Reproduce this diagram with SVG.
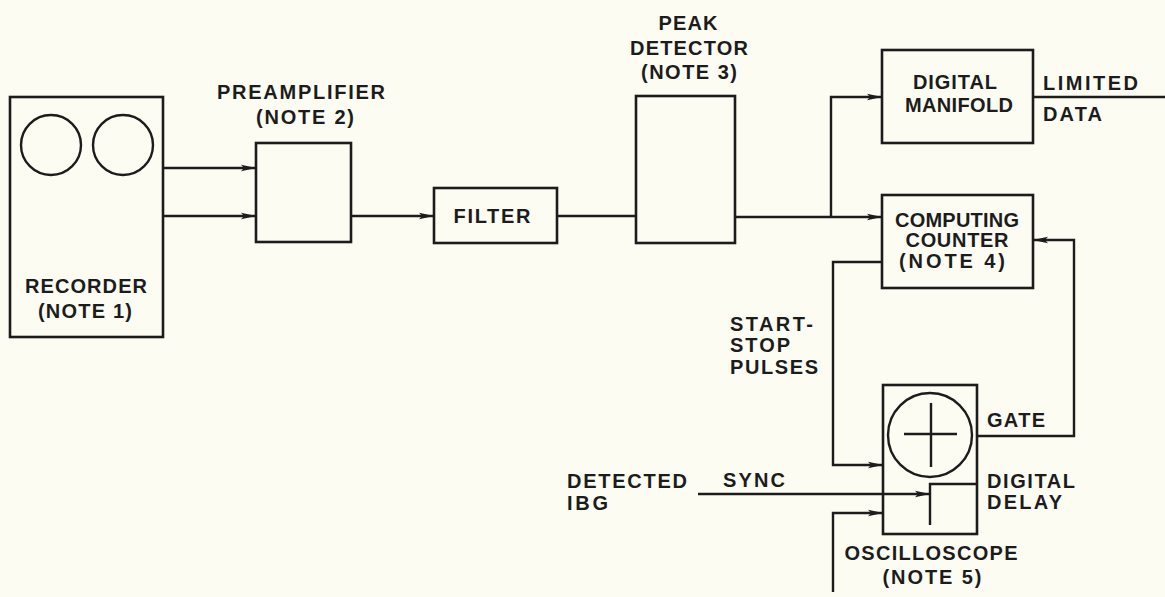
<svg xmlns="http://www.w3.org/2000/svg" width="1165" height="597" viewBox="0 0 1165 597">
<defs>
<style>
.b{fill:none;stroke:#1c1c1c;stroke-width:2.6}
.c{fill:none;stroke:#1c1c1c;stroke-width:2.4}
.t{font-family:"Liberation Sans",Arial,sans-serif;font-weight:bold;font-size:20px;fill:#1c1c1c}
.m{text-anchor:middle}
</style>
<marker id="arr" markerWidth="15" markerHeight="8" refX="15" refY="4" orient="auto" markerUnits="userSpaceOnUse">
<path d="M0,0.8 L15,4 L0,7.2 L3,4 Z" fill="#1c1c1c"/>
</marker>
</defs>
<rect width="1165" height="597" fill="#fcfcf3"/>

<g id="recorder">
<rect class="b" x="10" y="97" width="153" height="240"/>
<circle class="c" cx="51" cy="145" r="30"/>
<circle class="c" cx="123" cy="145" r="30"/>
<text class="t m" x="86" y="293" textLength="122" lengthAdjust="spacing">RECORDER</text>
<text class="t m" x="85" y="318" textLength="94" lengthAdjust="spacing">(NOTE 1)</text>
</g>

<g id="preamplifier">
<rect class="b" x="256" y="143" width="95" height="99"/>
<text class="t m" x="301" y="99" textLength="168" lengthAdjust="spacing">PREAMPLIFIER</text>
<text class="t m" x="305" y="124" textLength="98" lengthAdjust="spacing">(NOTE 2)</text>
</g>

<g id="filter">
<rect class="b" x="434" y="188" width="123" height="55"/>
<text class="t m" x="492" y="223" textLength="77" lengthAdjust="spacing">FILTER</text>
</g>

<g id="peak-detector">
<rect class="b" x="636" y="96" width="99" height="147"/>
<text class="t m" x="688" y="30" textLength="59" lengthAdjust="spacing">PEAK</text>
<text class="t m" x="689" y="55" textLength="118" lengthAdjust="spacing">DETECTOR</text>
<text class="t m" x="689" y="79" textLength="96" lengthAdjust="spacing">(NOTE 3)</text>
</g>

<g id="digital-manifold">
<rect class="b" x="882" y="50" width="151" height="93"/>
<text class="t m" x="955" y="89" textLength="84" lengthAdjust="spacing">DIGITAL</text>
<text class="t m" x="959" y="112" textLength="108" lengthAdjust="spacing">MANIFOLD</text>
</g>

<g id="computing-counter">
<rect class="b" x="882" y="195" width="151" height="93"/>
<text class="t m" x="957" y="227" textLength="124" lengthAdjust="spacing">COMPUTING</text>
<text class="t m" x="957" y="247" textLength="103" lengthAdjust="spacing">COUNTER</text>
<text class="t m" x="952" y="268" textLength="106" lengthAdjust="spacing">(NOTE 4)</text>
</g>

<g id="oscilloscope">
<rect class="b" x="883" y="385" width="94" height="149"/>
<circle class="c" cx="930" cy="435" r="42"/>
<path class="c" d="M931,403 V467 M904,434 H957"/>
<path class="c" d="M930,525 V484 H977"/>
<text class="t m" x="931" y="560" textLength="173" lengthAdjust="spacing">OSCILLOSCOPE</text>
<text class="t m" x="932" y="584" textLength="99" lengthAdjust="spacing">(NOTE 5)</text>
</g>

<g id="labels">
<text class="t" x="1043" y="90" textLength="95" lengthAdjust="spacing">LIMITED</text>
<text class="t" x="1043" y="121" textLength="59" lengthAdjust="spacing">DATA</text>
<text class="t" x="730" y="331" textLength="83" lengthAdjust="spacing">START-</text>
<text class="t" x="730" y="352" textLength="60" lengthAdjust="spacing">STOP</text>
<text class="t" x="730" y="374" textLength="88" lengthAdjust="spacing">PULSES</text>
<text class="t" x="567" y="488" textLength="120" lengthAdjust="spacing">DETECTED</text>
<text class="t" x="567" y="510" textLength="41" lengthAdjust="spacing">IBG</text>
<text class="t" x="723" y="487" textLength="62" lengthAdjust="spacing">SYNC</text>
<text class="t" x="987" y="427" textLength="58" lengthAdjust="spacing">GATE</text>
<text class="t" x="987" y="488" textLength="88" lengthAdjust="spacing">DIGITAL</text>
<text class="t" x="987" y="509" textLength="75" lengthAdjust="spacing">DELAY</text>
</g>

<g id="connectors">
<path class="c" d="M163,168 H256" marker-end="url(#arr)"/>
<path class="c" d="M163,216 H256" marker-end="url(#arr)"/>
<path class="c" d="M351,216 H434" marker-end="url(#arr)"/>
<path class="c" d="M557,216 H636"/>
<path class="c" d="M735,217 H882" marker-end="url(#arr)"/>
<path class="c" d="M831,217 V97 H882" marker-end="url(#arr)"/>
<path class="c" d="M1033,97 H1165"/>
<path class="c" d="M882,262 H833 V465 H883" marker-end="url(#arr)"/>
<path class="c" d="M977,436 H1074 V240 H1033" marker-end="url(#arr)"/>
<path class="c" d="M698,494 H930" marker-end="url(#arr)"/>
<path class="c" d="M833,592 V513 H883" marker-end="url(#arr)"/>
</g>
</svg>
